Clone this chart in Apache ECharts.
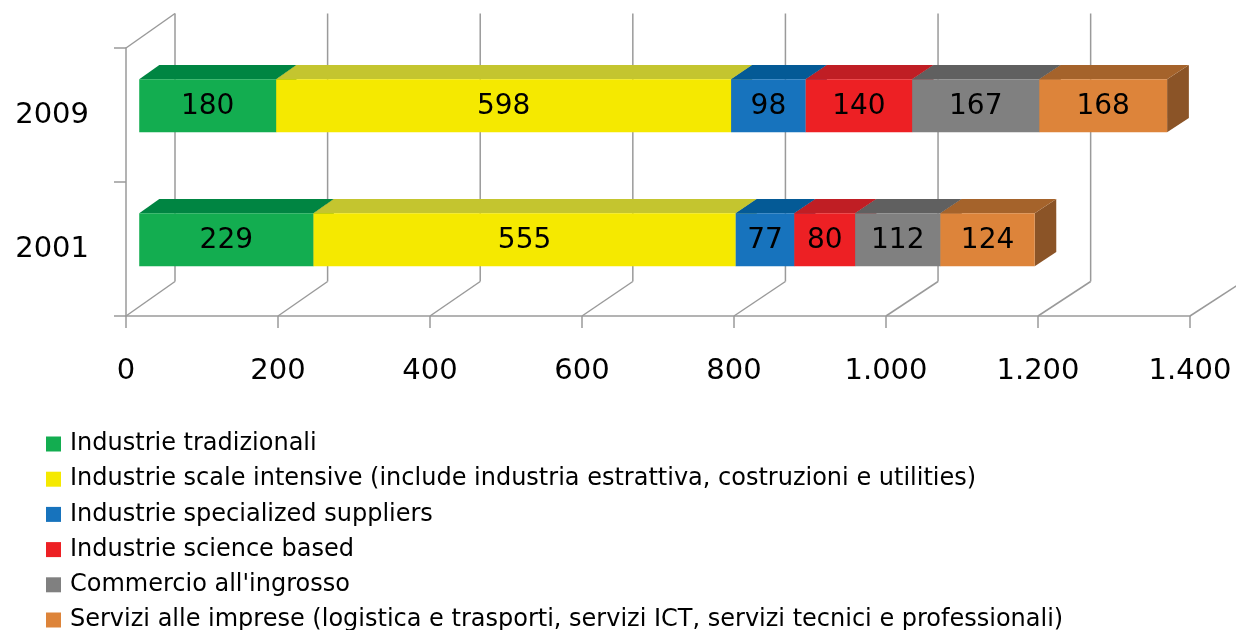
<!DOCTYPE html>
<html>
<head>
<meta charset="utf-8">
<script src="https://cdn.jsdelivr.net/npm/echarts@6/dist/echarts.min.js"></script>
<style>
  html, body { margin: 0; padding: 0; background: #fff; }
  #chart { width: 1236px; height: 630px; }
</style>
</head>
<body>
<div id="chart"></div>
<script>
// anni (dal basso verso l'alto, come in Excel)
const years = ['2001', '2009'];

const seriesNames = [
  'Industrie tradizionali',
  'Industrie scale intensive (include industria estrattiva, costruzioni e utilities)',
  'Industrie specialized suppliers',
  'Industrie science based',
  "Commercio all'ingrosso",
  'Servizi alle imprese (logistica e trasporti, servizi ICT, servizi tecnici e professionali)'
];

// valori [2001, 2009]
const tradizionali = [229, 180];
const scaleIntensive = [555, 598];
const specializedSuppliers = [77, 98];
const scienceBased = [80, 140];
const commercioIngrosso = [112, 167];
const serviziImprese = [124, 168];

const xTicks = [0, 200, 400, 600, 800, 1000, 1200, 1400];

const allValues = [tradizionali, scaleIntensive, specializedSuppliers, scienceBased, commercioIngrosso, serviziImprese];

// colori: faccia frontale, superiore, laterale
const frontColors = ['#13ad50', '#f5e900', '#1773bd', '#ed2024', '#808080', '#dd843a'];
const topColors = ['#008542', '#c4c52f', '#045a96', '#c01e24', '#606060', '#a5632b'];
const sideColors = ['#006b35', '#a3a41f', '#03487a', '#9a181c', '#4d4d4d', '#8b5427'];

const DEPTH_X = 49, DEPTH_Y = 34.5;
const BAR_F1 = 0.27, BAR_F2 = 0.68;
const GRID_COLOR = '#9a9a9a';

function fmt(v) {
  return String(v).replace(/\B(?=(\d{3})+(?!\d))/g, '.');
}

// proietta un punto del piano frontale verso il fondo
function proj(pt, x0, f) {
  return [x0 + (pt[0] - x0) * (1 + 0.004 * f) + DEPTH_X * f, pt[1] - DEPTH_Y * f];
}

const myChart = echarts.init(document.getElementById('chart'));

// pareti (linee di fondo e pavimento)
const wallSeries = {
  type: 'custom',
  name: 'walls',
  silent: true,
  clip: false,
  z: 1,
  data: [[0, 0]],
  renderItem: function (params, api) {
    const band = api.size([0, 1])[1];
    const x0 = api.coord([xTicks[0], 0])[0];
    const yBot = api.coord([0, 0])[1] + band / 2;
    const yTop = api.coord([0, years.length - 1])[1] - band / 2;
    const lines = [];
    const style = { stroke: GRID_COLOR, lineWidth: 1.5 };
    xTicks.forEach(function (v, i) {
      const x = api.coord([v, 0])[0];
      const b = proj([x, yBot], x0, 1);
      lines.push({ type: 'line', shape: { x1: x, y1: yBot, x2: b[0], y2: b[1] }, style: style });
      if (i < xTicks.length - 1) {
        const t = proj([x, yTop], x0, 1);
        lines.push({ type: 'line', shape: { x1: t[0], y1: t[1], x2: b[0], y2: b[1] }, style: style });
      }
    });
    const tl = proj([x0, yTop], x0, 1);
    lines.push({ type: 'line', shape: { x1: x0, y1: yTop, x2: tl[0], y2: tl[1] }, style: style });
    return { type: 'group', children: lines };
  }
};

function barSeries(idx) {
  const data = years.map(function (y, c) {
    let start = 0;
    for (let k = 0; k < idx; k++) start += allValues[k][c];
    return [c, start, start + allValues[idx][c], allValues[idx][c]];
  });
  return {
    type: 'custom',
    name: seriesNames[idx],
    clip: false,
    z: 3 + idx,
    itemStyle: { color: frontColors[idx] },
    data: data,
    renderItem: function (params, api) {
      const cat = api.value(0);
      const band = api.size([0, 1])[1];
      const h = band * 0.395;
      const x0 = api.coord([0, cat])[0];
      const ps = api.coord([api.value(1), cat]);
      const pe = api.coord([api.value(2), cat]);
      const yt = ps[1] - h / 2, yb = ps[1] + h / 2;
      const A = proj([ps[0], yt], x0, BAR_F1);
      const B = proj([pe[0], yt], x0, BAR_F1);
      const C = proj([pe[0], yb], x0, BAR_F1);
      const D = proj([ps[0], yb], x0, BAR_F1);
      const A2 = proj([ps[0], yt], x0, BAR_F2);
      const B2 = proj([pe[0], yt], x0, BAR_F2);
      const C2 = proj([pe[0], yb], x0, BAR_F2);
      return {
        type: 'group',
        children: [
          { type: 'polygon', shape: { points: [B, B2, C2, C] }, style: { fill: sideColors[idx] } },
          { type: 'polygon', shape: { points: [A, B, B2, A2] }, style: { fill: topColors[idx] } },
          { type: 'polygon', shape: { points: [A, B, C, D] }, style: { fill: frontColors[idx] } },
          {
            type: 'text',
            style: {
              x: (A[0] + B[0]) / 2, y: (A[1] + D[1]) / 2 + 1,
              text: fmt(api.value(3)),
              align: 'center', verticalAlign: 'middle',
              fontFamily: 'DejaVu Sans', fontSize: 28, fill: '#000'
            }
          }
        ]
      };
    }
  };
}

const option = {
  backgroundColor: '#fff',
  animation: false,
  grid: { left: 126, right: 46, top: 48, bottom: 314 },
  xAxis: {
    type: 'value',
    min: 0,
    max: 1400,
    interval: 200,
    axisLine: { show: true, lineStyle: { color: GRID_COLOR, width: 1.5 } },
    axisTick: { show: true, length: 12, lineStyle: { color: GRID_COLOR, width: 1.5 } },
    splitLine: { show: false },
    axisLabel: {
      margin: 41,
      fontFamily: 'DejaVu Sans',
      fontSize: 29,
      color: '#000',
      formatter: fmt
    }
  },
  yAxis: {
    type: 'category',
    data: years,
    axisLine: { show: true, lineStyle: { color: GRID_COLOR, width: 1.5 } },
    axisTick: { show: true, length: 12, lineStyle: { color: GRID_COLOR, width: 1.5 } },
    axisLabel: {
      margin: 37,
      fontFamily: 'DejaVu Sans',
      fontSize: 29,
      color: '#000'
    }
  },
  legend: {
    data: seriesNames,
    orient: 'vertical',
    left: 46,
    top: 432,
    padding: 0,
    height: 240,
    icon: 'rect',
    itemWidth: 15,
    itemHeight: 15,
    itemGap: 11.2,
    selectedMode: false,
    textStyle: {
      fontFamily: 'DejaVu Sans',
      fontSize: 24,
      color: '#000',
      padding: [0, 0, 0, 4]
    }
  },
  series: [wallSeries].concat(seriesNames.map(function (n, i) { return barSeries(i); }))
};

myChart.setOption(option, true);
window.addEventListener('resize', function () {
  myChart.resize();
});
</script>
</body>
</html>
